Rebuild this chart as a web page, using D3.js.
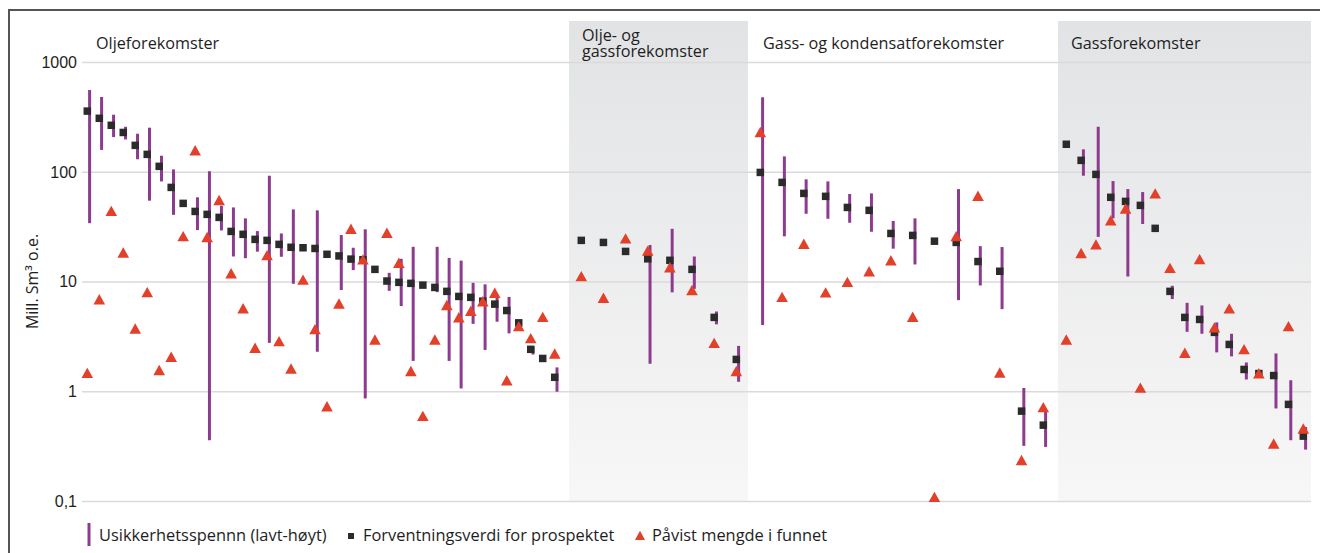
<!DOCTYPE html>
<html>
<head>
<meta charset="utf-8">
<script src="https://cdn.jsdelivr.net/npm/d3@7"></script>
<style>
  html, body { margin: 0; padding: 0; background: #fff; }
  svg { display: block; font-family: "Open Sans", "Noto Sans", sans-serif; }
</style>
</head>
<body>
<script>
// ---------- DATA ----------
const groupNames = ["Oljeforekomster", "Olje- og\ngassforekomster", "Gass- og kondensatforekomster", "Gassforekomster"];
const tickValues = [0.1, 1, 10, 100, 1000];
const tickLabels = ["0,1", "1", "10", "100", "1000"];
const yTitle = "Mill. Sm³ o.e.";
const legendLabels = ["Usikkerhetsspennn (lavt-høyt)", "Forventningsverdi for prospektet", "Påvist mengde i funnet"];

// Oljeforekomster
const oilExpected = [357, 307, 265, 228, 174, 144, 112, 72, 51.5, 43.5, 40.9, 38.4, 28.6, 26.9, 24.2, 23.7, 21.8, 20.5, 20.3, 20.0,
                     17.7, 17.1, 16.0, 15.8, 12.9, 10.1, 9.82, 9.62, 9.27, 8.83, 8.13, 7.31, 7.17, 6.62, 6.22, 5.44, 4.20, 2.41, 1.99, 1.34];
const oilLow      = [34, 158, 207, 197, 130, 54.5, 81.6, 40.5, null, 29.4, 0.358, 29.2, 16.9, 16.3, 18.7, 2.76, 16.8, 9.53, null, 2.29,
                     null, 8.36, 12.7, 0.86, null, 8.22, 5.97, 1.89, null, 8.0, 1.89, 1.06, 4.11, 2.38, 4.30, 3.37, null, 2.16, null, 0.99];
const oilHigh     = [556, 480, 331, 257, 222, 252, 140, 105, null, 58.5, 101, 49, 47.3, 37.6, 28.8, 92, 27.4, 45.4, null, 44.5,
                     null, 26.5, 20.3, 29.9, null, 12.0, 16.1, 20.7, null, 20.7, 16.4, 15.5, 9.73, 9.42, 7.24, 7.24, null, 2.54, null, 1.65];
const oilFound    = [1.47, 6.9, 44, 18.4, 3.73, 8.0, 1.56, 2.06, 25.9, 157, 25.4, 55.2, 11.9, 5.71, 2.49, 17.4, 2.86, 1.61, 10.4, 3.68,
                     0.73, 6.31, 30.2, 15.9, 2.96, 27.8, 14.8, 1.53, 0.597, 2.96, 6.10, 4.73, 5.41, 6.6, 7.89, 1.26, 3.92, 3.05, 4.76, 2.21];

// Olje- og gassforekomster
const oilGasExpected = [23.7, 22.7, 18.8, 16.1, 15.6, 12.9, 4.71, 1.95];
const oilGasLow      = [null, null, null, 1.78, 7.96, 8.57, 4.07, 1.22];
const oilGasHigh     = [null, null, null, 21.5, 30.2, 16.9, 5.33, 2.59];
const oilGasFound    = [11.2, 7.10, 24.7, 19.1, 13.5, 8.36, 2.76, 1.53];

// Gass- og kondensatforekomster
const condExpected = [98.6, 80, 63.5, 59.7, 47.3, 44.5, 27.4, 26.3, 23.3, 22.7, 15.2, 12.4, 0.659, 0.491];
const condLow      = [4.01, 25.8, 41.4, 37.3, 34.3, 28.4, 19.9, 14.3, null, 6.76, 9.2, 5.6, 0.318, 0.311];
const condHigh     = [477, 138, 85.3, 81.7, 62.7, 63.5, 35.6, 37.6, null, 69.5, 21.0, 20.6, 1.07, 0.649];
const condFound    = [230, 7.24, 22.1, 7.96, 9.93, 12.4, 15.6, 4.77, 0.109, 25.9, 60.4, 1.48, 0.236, 0.716];

// Gassforekomster
const gasExpected = [178, 127, 94.6, 58.5, 53.7, 49.4, 30.5, 8.13, 4.71, 4.51, 3.44, 2.67, 1.58, 1.45, 1.39, 0.759, 0.39];
const gasLow      = [null, 92, 25.5, 37.6, 11.1, 33.4, null, 6.92, 3.48, 3.34, 2.26, 2.08, 1.28, null, 0.697, 0.358, 0.294];
const gasHigh     = [null, 160, 257, 82.2, 69.5, 65.3, null, 9.14, 6.39, 6.05, 4.24, 3.34, 1.83, null, 2.21, 1.26, 0.473];
const gasFound    = [2.96, 18.2, 21.8, 36.1, 46.3, 1.08, 63.5, 13.3, 2.24, 16.0, 3.82, 5.69, 2.42, 1.46, 0.334, 3.92, 0.458];

const groupData = [
  {expected: oilExpected, low: oilLow, high: oilHigh, found: oilFound},
  {expected: oilGasExpected, low: oilGasLow, high: oilGasHigh, found: oilGasFound},
  {expected: condExpected, low: condLow, high: condHigh, found: condFound},
  {expected: gasExpected, low: gasLow, high: gasHigh, found: gasFound}
];

// ---------- LAYOUT ----------
const W = 1320, H = 553;
const plotLeft = 82, plotRight = 1311, plotTop = 62, plotBottom = 501;
const groupLayout = [
  {x0: 82,  x1: 569,  p0: 87.3,   p1: 554.7,  shaded: false, labelX: 96,   labelY: 49},
  {x0: 569, x1: 748,  p0: 581.3,  p1: 736.3,  shaded: true,  labelX: 582,  labelY: 40.5},
  {x0: 748, x1: 1058, p0: 760.3,  p1: 1043.3, shaded: false, labelX: 763,  labelY: 49},
  {x0: 1058,x1: 1311, p0: 1066.3, p1: 1303.3, shaded: true,  labelX: 1071, labelY: 49}
];
const colRange = "#8c3b8e", colSquare = "#2b2b2b", colTri = "#e2402a", colGrid = "#dadada", colText = "#1e1e1e";

const svg = d3.select("body").append("svg").attr("width", W).attr("height", H);

const defs = svg.append("defs");
const grad = defs.append("linearGradient").attr("id", "shade").attr("x1", 0).attr("y1", 0).attr("x2", 0).attr("y2", 1);
grad.append("stop").attr("offset", "0%").attr("stop-color", "#e2e3e5");
grad.append("stop").attr("offset", "100%").attr("stop-color", "#f7f7f7");

groupLayout.forEach(g => {
  if (g.shaded) {
    svg.append("rect").attr("x", g.x0).attr("y", 21).attr("width", g.x1 - g.x0).attr("height", plotBottom - 21)
      .attr("fill", "url(#shade)");
  }
});

const y = d3.scaleLog().domain([0.1, 1000]).range([plotBottom, plotTop]);
const yAxis = d3.axisLeft(y)
  .tickValues(tickValues)
  .tickFormat((d, i) => tickLabels[i])
  .tickSize(-(plotRight - plotLeft))
  .tickPadding(5);
const gy = svg.append("g").attr("transform", `translate(${plotLeft},0)`).call(yAxis);
gy.select(".domain").remove();
gy.selectAll(".tick line").attr("stroke", colGrid).attr("stroke-width", 1.6);
gy.selectAll(".tick text").attr("fill", colText).style("font-size", "16px").attr("dy", "0.34em");

svg.append("text")
  .attr("transform", `translate(38,${y(10)}) rotate(-90)`)
  .attr("text-anchor", "middle")
  .attr("fill", colText)
  .style("font-size", "16px")
  .text(yTitle);

// group labels (multi-line labels as separate text elements)
groupLayout.forEach((g, gi) => {
  const lines = groupNames[gi].split("\n");
  lines.forEach((ln, li) => {
    svg.append("text").attr("x", g.labelX).attr("y", g.labelY + li * 16.5)
      .attr("fill", colText).style("font-size", "16.2px").text(ln);
  });
});

const triPath = "M0,-5.2 L5.8,5.2 L-5.8,5.2 Z";
const sq = 7.5;
groupLayout.forEach((g, gi) => {
  const d = groupData[gi];
  const n = d.expected.length;
  const x = d3.scalePoint().domain(d3.range(n)).range([g.p0, g.p1]);
  const items = d3.range(n).map(i => ({i, e: d.expected[i], lo: d.low[i], hi: d.high[i], f: d.found[i]}));
  const layer = svg.append("g");
  layer.selectAll("line.range").data(items.filter(o => o.lo != null)).join("line")
    .attr("x1", o => x(o.i) + 2.3).attr("x2", o => x(o.i) + 2.3)
    .attr("y1", o => y(o.hi)).attr("y2", o => y(o.lo))
    .attr("stroke", colRange).attr("stroke-width", 3);
  layer.selectAll("rect.exp").data(items).join("rect")
    .attr("x", o => x(o.i) - sq / 2).attr("y", o => y(o.e) - sq / 2)
    .attr("width", sq).attr("height", sq).attr("fill", colSquare);
  layer.selectAll("path.found").data(items).join("path")
    .attr("d", triPath)
    .attr("transform", o => `translate(${x(o.i)},${y(o.f)})`)
    .attr("fill", colTri);
});

// legend
const lg = svg.append("g").style("font-size", "16.4px").attr("fill", colText);
lg.append("line").attr("x1", 89).attr("x2", 89).attr("y1", 523).attr("y2", 546).attr("stroke", colRange).attr("stroke-width", 3);
lg.append("text").attr("x", 99).attr("y", 541).text(legendLabels[0]);
lg.append("rect").attr("x", 348).attr("y", 533).attr("width", 6).attr("height", 6).attr("fill", colSquare);
lg.append("text").attr("x", 363).attr("y", 541).text(legendLabels[1]);
lg.append("path").attr("d", "M0,-4.8 L5,4.5 L-5,4.5 Z").attr("transform", "translate(640,535.5)").attr("fill", colTri);
lg.append("text").attr("x", 652).attr("y", 541).text(legendLabels[2]);

svg.append("path").attr("d", `M9,${H} V10 H${W}`).attr("fill", "none").attr("stroke", "#555").attr("stroke-width", 2);
</script>
</body>
</html>
